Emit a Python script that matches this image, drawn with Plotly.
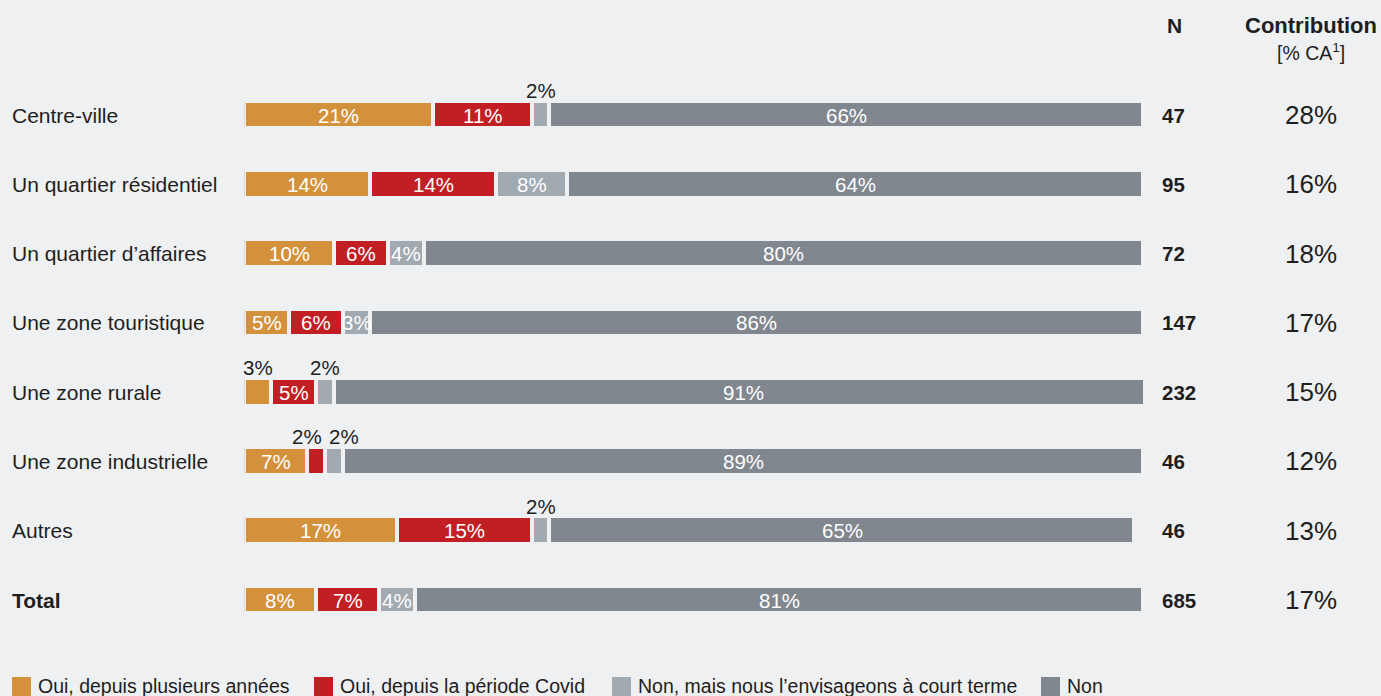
import plotly.graph_objects as go

# Categories (top to bottom)
categories = ["Centre-ville", "Un quartier résidentiel", "Un quartier d’affaires",
              "Une zone touristique", "Une zone rurale", "Une zone industrielle",
              "Autres", "<b>Total</b>"]

# Share of respondents per answer (%)
oui_plusieurs = [21, 14, 10, 5, 3, 7, 17, 8]
oui_covid = [11, 14, 6, 6, 5, 2, 15, 7]
non_envisage = [2, 8, 4, 3, 2, 2, 2, 4]
non = [66, 64, 80, 86, 91, 89, 65, 81]

n_values = [47, 95, 72, 147, 232, 46, 46, 685]
contribution = [28, 16, 18, 17, 15, 12, 13, 17]

series_names = ["Oui, depuis plusieurs années", "Oui, depuis la période Covid",
                "Non, mais nous l’envisageons à court terme", "Non"]
series_values = [oui_plusieurs, oui_covid, non_envisage, non]
colors = ["#d4913c", "#c21f25", "#a1a9b1", "#80878f"]

# Segments whose label is written above the bar instead of inside
labels_above = {(0, 2), (4, 0), (4, 2), (5, 1), (5, 2), (6, 2)}

BG = "#eff0f2"
FONT = "Arial, Liberation Sans, sans-serif"
TXT = "#1e1e1e"

W, H = 1381, 696
row_top, row_step = 115, 69.29
bar_left, bar_right = 244.5, 1143.0
px_per_pct = (bar_right - bar_left) / 100

rows = list(range(len(categories)))
fig = go.Figure()

for s, (name, vals, col) in enumerate(zip(series_names, series_values, colors)):
    fig.add_trace(go.Bar(
        y=rows, x=vals, orientation="h", name=name,
        marker=dict(color=col, line=dict(color=BG, width=3.5)),
        width=0.385, hoverinfo="x+name", showlegend=False,
    ))

annotations = []
# value labels: white inside the segment, dark above it for narrow segments
for i in rows:
    cum = 0
    above = []
    for s, vals in enumerate(series_values):
        v = vals[i]
        mid = cum + v / 2
        if (i, s) in labels_above:
            above.append([mid, v])
        else:
            annotations.append(dict(x=mid, y=i, xref="x", yref="y", text=f"{v}%",
                                    showarrow=False, xanchor="center", yanchor="middle",
                                    font=dict(size=20.5, color="white", family=FONT)))
        cum += v
    # spread neighbouring labels above the bar so they do not collide
    shifts = [0.0] * len(above)
    min_gap = 37.0
    for k in range(1, len(above)):
        d = (above[k][0] - above[k - 1][0]) * px_per_pct
        if d < min_gap:
            push = (min_gap - d) / 2
            shifts[k - 1] -= push
            shifts[k] += push
    for (mid, v), sh in zip(above, shifts):
        annotations.append(dict(x=mid, y=i, xref="x", yref="y", text=f"{v}%",
                                showarrow=False, xanchor="center", yanchor="bottom",
                                yshift=11, xshift=sh,
                                font=dict(size=20.5, color=TXT, family=FONT)))

# row labels, N and contribution columns
for i, cat in enumerate(categories):
    annotations.append(dict(x=10 / W, y=i, xref="paper", yref="y", text=cat,
                            showarrow=False, xanchor="left", yanchor="middle",
                            font=dict(size=21, color=TXT, family=FONT)))
    annotations.append(dict(x=1160 / W, y=i, xref="paper", yref="y",
                            text=f"<b>{n_values[i]}</b>", showarrow=False,
                            xanchor="left", yanchor="middle",
                            font=dict(size=20.5, color=TXT, family=FONT)))
    annotations.append(dict(x=1311 / W, y=i, xref="paper", yref="y",
                            text=f"{contribution[i]}%", showarrow=False,
                            xanchor="center", yanchor="middle",
                            font=dict(size=26, color=TXT, family=FONT)))

# column headers
annotations.append(dict(x=1174 / W, y=1 - 25 / H, xref="paper", yref="paper",
                        text="<b>N</b>", showarrow=False, xanchor="center", yanchor="middle",
                        font=dict(size=21, color=TXT, family=FONT)))
annotations.append(dict(x=1311 / W, y=1 - 25 / H, xref="paper", yref="paper",
                        text="<b>Contribution</b>", showarrow=False,
                        xanchor="center", yanchor="middle",
                        font=dict(size=22, color=TXT, family=FONT)))
annotations.append(dict(x=1311 / W, y=1 - 52 / H, xref="paper", yref="paper",
                        text="[% CA<sup>1</sup>]", showarrow=False,
                        xanchor="center", yanchor="middle",
                        font=dict(size=19.5, color=TXT, family=FONT)))

# legend drawn as swatches and text
shapes = []
legend_x = [12, 314, 612, 1041]
for lx, name, col in zip(legend_x, series_names, colors):
    shapes.append(dict(type="rect", xref="paper", yref="paper",
                       x0=lx / W, x1=(lx + 19) / W, y0=1 - 696 / H, y1=1 - 677 / H,
                       fillcolor=col, line=dict(width=0)))
    annotations.append(dict(x=(lx + 24) / W, y=1 - 686 / H, xref="paper", yref="paper",
                            text=name, showarrow=False, xanchor="left", yanchor="middle",
                            font=dict(size=19.5, color=TXT, family=FONT)))

y_top = -row_top / row_step
y_bottom = (H - row_top) / row_step

fig.update_layout(
    width=W, height=H, barmode="stack", bargap=0,
    paper_bgcolor=BG, plot_bgcolor=BG,
    margin=dict(l=0, r=0, t=0, b=0),
    xaxis=dict(domain=[bar_left / W, bar_right / W], range=[0, 100],
               visible=False, fixedrange=True),
    yaxis=dict(range=[y_bottom, y_top], visible=False, fixedrange=True),
    annotations=annotations, shapes=shapes,
    font=dict(family=FONT, color=TXT),
    showlegend=False,
)

fig.write_html("out.html")
